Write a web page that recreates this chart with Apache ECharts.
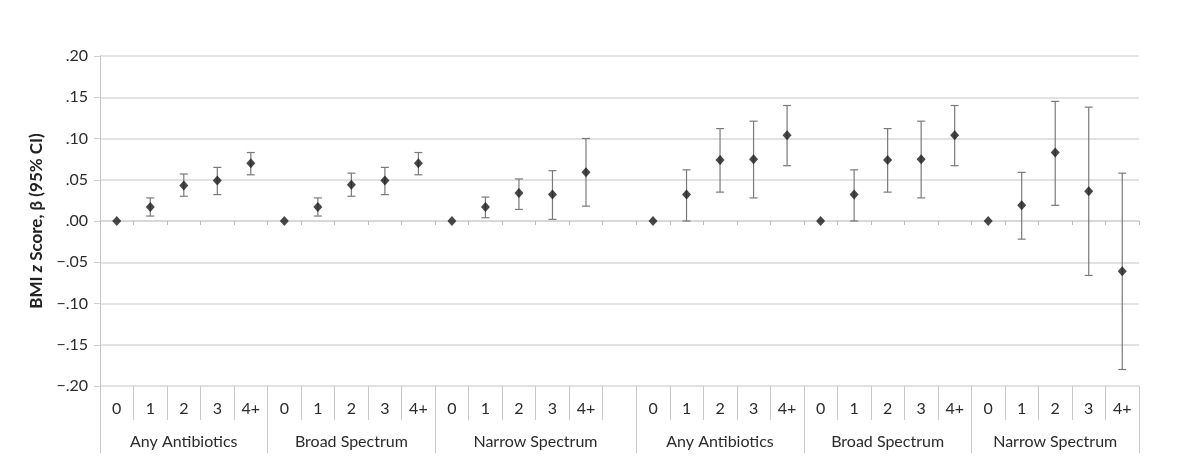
<!DOCTYPE html>
<html>
<head>
<meta charset="utf-8">
<title>BMI z score by antibiotic courses</title>
<script src="https://cdn.jsdelivr.net/npm/echarts@6/dist/echarts.min.js"></script>
<style>
  html, body { margin: 0; padding: 0; background: #fff; }
  #main { width: 1200px; height: 476px; }
</style>
</head>
<body>
<div id="main"></div>
<script>
// courses of antibiotics, repeated in each panel
var doseLabels = ['0', '1', '2', '3', '4+'];
var groupNames = ['Any Antibiotics', 'Broad Spectrum', 'Narrow Spectrum',
                  'Any Antibiotics', 'Broad Spectrum', 'Narrow Spectrum'];

// beta estimates, one row per group
var estimates = [
  [0, 0.017, 0.043, 0.049, 0.070],
  [0, 0.017, 0.044, 0.049, 0.070],
  [0, 0.017, 0.034, 0.032, 0.059],
  [0, 0.032, 0.074, 0.075, 0.104],
  [0, 0.032, 0.074, 0.075, 0.104],
  [0, 0.019, 0.083, 0.036, -0.061]
];
// 95% CI, reference level (0) has none
var lower = [
  [null, 0.006, 0.030, 0.032, 0.056],
  [null, 0.006, 0.030, 0.032, 0.056],
  [null, 0.004, 0.014, 0.002, 0.018],
  [null, 0.000, 0.035, 0.028, 0.067],
  [null, 0.000, 0.035, 0.028, 0.067],
  [null, -0.022, 0.019, -0.066, -0.180]
];
var upper = [
  [null, 0.028, 0.057, 0.065, 0.083],
  [null, 0.028, 0.058, 0.065, 0.083],
  [null, 0.029, 0.051, 0.061, 0.100],
  [null, 0.062, 0.112, 0.121, 0.140],
  [null, 0.062, 0.112, 0.121, 0.140],
  [null, 0.059, 0.145, 0.138, 0.058]
];

var categories = [], groupStarts = [], groupSpans = [], points = [], bars = [];
groupNames.forEach(function (name, g) {
  var start = categories.length;
  estimates[g].forEach(function (v, d) {
    var idx = categories.length;
    categories.push(doseLabels[d]);
    points.push([idx, v]);
    if (lower[g][d] !== null) bars.push([idx, lower[g][d], upper[g][d]]);
  });
  if (g === 2) categories.push('');   // empty slot between the two panels
  groupStarts.push(start);
  groupSpans.push([start, categories.length]);
});

var groupLabels = categories.map(function () { return ''; });
groupSpans.forEach(function (s, g) {
  var size = s[1] - s[0];
  var mid = s[0] + Math.floor(size / 2);
  groupLabels[mid] = size % 2 ? groupNames[g] : '{even|' + groupNames[g] + '}';
});

var font = 'Lato';
var txt = '#2b2b2b';
var fs = 16;

var myChart = echarts.init(document.getElementById('main'));
var option = {
  animation: false,
  textStyle: { fontFamily: font },
  grid: { left: 100, right: 61, top: 56, bottom: 90 },
  xAxis: [
    {
      // line through zero with small ticks
      type: 'category',
      data: categories.map(function (c, i) { return String(i); }),
      boundaryGap: true,
      axisLine: { onZero: true, lineStyle: { color: '#d6d6d6', width: 1.5 } },
      axisTick: { show: true, length: 4, lineStyle: { color: '#bdbdbd' } },
      axisLabel: { show: false },
      splitLine: { show: false }
    },
    {
      // dose labels
      type: 'category',
      position: 'bottom',
      data: categories,
      boundaryGap: true,
      axisLine: { show: false, onZero: false },
      axisTick: { show: true, length: 34, lineStyle: { color: '#c8c8c8' } },
      axisLabel: { interval: 0, margin: 15, fontSize: fs, color: txt, fontFamily: font },
      splitLine: { show: false }
    },
    {
      // group labels
      type: 'category',
      position: 'bottom',
      offset: 34,
      data: groupLabels,
      boundaryGap: true,
      axisLine: { show: false, onZero: false },
      axisTick: {
        show: true, length: 33, lineStyle: { color: '#c8c8c8' },
        interval: function (index) { return groupStarts.indexOf(index) >= 0; }
      },
      axisLabel: {
        interval: 0, margin: 14, fontSize: fs, color: txt, fontFamily: font,
        rich: { even: { fontSize: fs, color: txt, fontFamily: font, padding: [0, 34, 0, 0] } }
      },
      splitLine: { show: false }
    }
  ],
  yAxis: {
    type: 'value',
    min: -0.2,
    max: 0.2,
    interval: 0.05,
    name: 'BMI {i|z} Score, β (95% CI)',
    nameLocation: 'middle',
    nameGap: 55,
    nameTextStyle: {
      fontSize: 17, fontWeight: 'bold', color: '#222', fontFamily: font,
      rich: { i: { fontSize: 17, fontWeight: 'bold', fontStyle: 'italic', color: '#222', fontFamily: font } }
    },
    axisLine: { show: true, lineStyle: { color: '#c4c4c4' } },
    axisTick: { show: true, length: 6, lineStyle: { color: '#d0d0d0' } },
    axisLabel: {
      fontSize: fs, color: txt, fontFamily: font, margin: 12,
      formatter: function (v) {
        var s = Math.abs(v).toFixed(2).replace(/^0/, '');
        return v < -1e-9 ? '\u2212' + s : s;
      }
    },
    splitLine: { lineStyle: { color: '#d9d9d9', width: 1.5 } }
  },
  series: [
    {
      name: 'CI',
      type: 'custom',
      xAxisIndex: 0,
      data: bars,
      z: 2,
      renderItem: function (params, api) {
        var lo = api.coord([api.value(0), api.value(1)]);
        var hi = api.coord([api.value(0), api.value(2)]);
        var cap = 4;
        var style = { stroke: '#7a7a7a', lineWidth: 1.2 };
        return {
          type: 'group',
          children: [
            { type: 'line', shape: { x1: lo[0], y1: lo[1], x2: hi[0], y2: hi[1] }, style: style },
            { type: 'line', shape: { x1: hi[0] - cap, y1: hi[1], x2: hi[0] + cap, y2: hi[1] }, style: style },
            { type: 'line', shape: { x1: lo[0] - cap, y1: lo[1], x2: lo[0] + cap, y2: lo[1] }, style: style }
          ]
        };
      }
    },
    {
      name: 'Estimate',
      type: 'scatter',
      xAxisIndex: 0,
      data: points,
      symbol: 'diamond',
      symbolSize: [9, 10],
      itemStyle: { color: '#1a1a1a' },
      z: 3
    }
  ]
};
myChart.setOption(option);
</script>
</body>
</html>
